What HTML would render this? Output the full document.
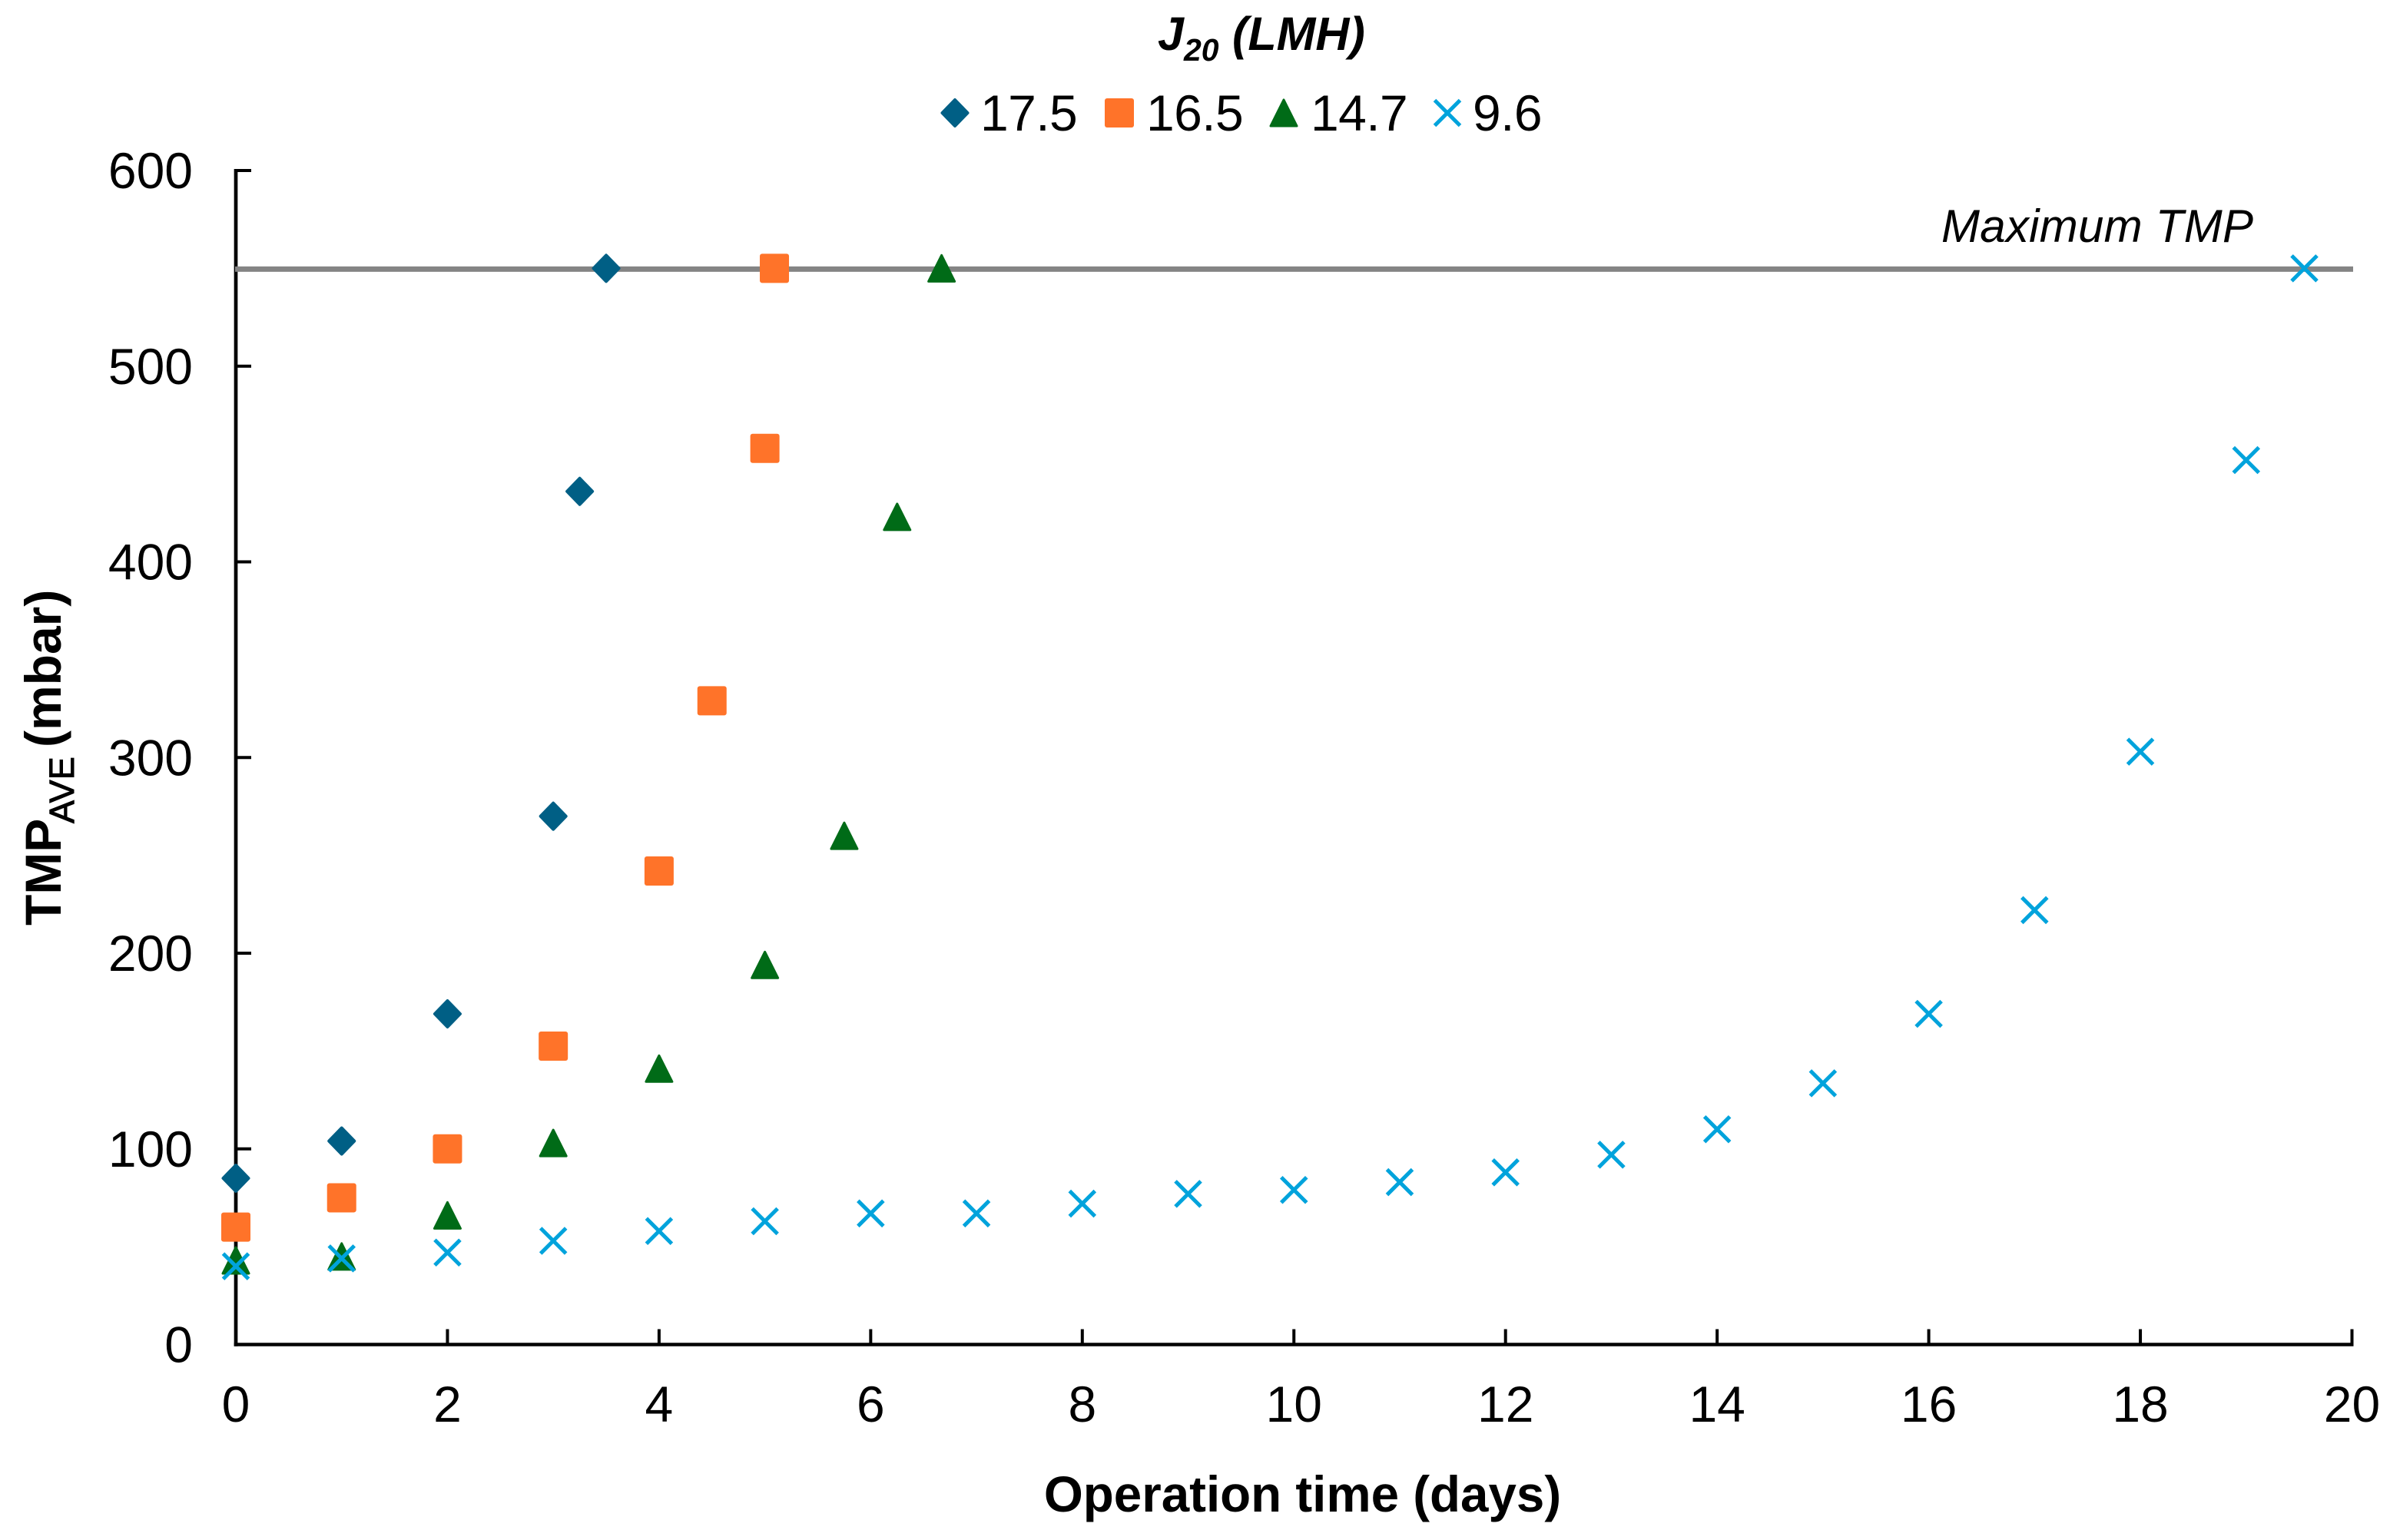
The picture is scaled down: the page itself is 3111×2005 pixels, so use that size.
<!DOCTYPE html>
<html lang="en">
<head>
<meta charset="utf-8">
<title>TMP vs operation time</title>
<style>
html,body{margin:0;padding:0;background:#fff;}
svg{display:block;}
text{font-family:"Liberation Sans",Arial,sans-serif;fill:#000;}
</style>
</head>
<body>
<svg id="chart" xmlns="http://www.w3.org/2000/svg" width="3111" height="2005" viewBox="0 0 3111 2005">
  <rect x="0" y="0" width="3111" height="2005" fill="#ffffff"/>
  <g id="axes"></g>
  <g id="series"></g>
  <text x="2527" y="315" font-size="60" font-style="italic" textLength="406" lengthAdjust="spacing">Maximum TMP</text>
  <text x="1695.5" y="1968" font-size="65.5" font-weight="bold" text-anchor="middle">Operation time (days)</text>
  <text transform="translate(79,1205) rotate(-90)" font-size="66" font-weight="bold">TMP<tspan x="133" dy="17" font-size="45" font-weight="normal" stroke="#000" stroke-width="1">AVE</tspan><tspan x="232" dy="-17">(mbar)</tspan></text>
  <text x="1507" y="65" font-size="61" font-weight="bold" font-style="italic">J<tspan x="1541" dy="14" font-size="41">20</tspan><tspan x="1604" dy="-14">(LMH)</tspan></text>
  <g id="legend"></g>
</svg>
<script>
// ---- chart data ----
const xTickLabels = [0, 2, 4, 6, 8, 10, 12, 14, 16, 18, 20];
const yTickLabels = [0, 100, 200, 300, 400, 500, 600];
const seriesNames = ["17.5", "16.5", "14.7", "9.6"];
const maxTmp = 550;
const days175 = [0, 1, 2, 3, 3.25, 3.5];
const tmp175  = [85, 104, 169, 270, 436, 550];
const days165 = [0, 1, 2, 3, 4, 4.5, 5, 5.09];
const tmp165  = [60, 75, 100, 152.5, 242, 329, 458, 550];
const days147 = [0, 1, 2, 3, 4, 5, 5.75, 6.25, 6.67];
const tmp147  = [43, 45, 66, 103, 141, 194, 260, 423, 550];
const days96  = [0, 1, 2, 3, 4, 5, 6, 7, 8, 9, 10, 11, 12, 13, 14, 15, 16, 17, 18, 19, 19.55];
const tmp96   = [40, 44, 47, 53, 58, 63, 67, 67, 72, 77, 79, 83, 88, 97, 110, 133.5, 169, 222, 303, 452, 550];

// ---- scales ----
const X0 = 307, X1 = 3061.5, Y0 = 1750.5, Y1 = 222;
const xMax = 20, yMax = 600;
function xScale(v){ return X0 + (X1 - X0) * v / xMax; }
function yScale(v){ return Y0 - (Y0 - Y1) * v / yMax; }

const NS = "http://www.w3.org/2000/svg";
function make(tag, parent, attrs){
  const el = document.createElementNS(NS, tag);
  for (const k in attrs) el.setAttribute(k, attrs[k]);
  parent.appendChild(el);
  return el;
}

// ---- axes ----
const axes = document.getElementById("axes");
xTickLabels.forEach(function(v){
  const tick = make("line", axes, {x1:xScale(v), x2:xScale(v), y1:Y0, y2:Y0-20, stroke:"#000", "stroke-width":4});
  
  
  const label = make("text", axes, {x:xScale(v), y:1851, "font-size":66, "text-anchor":"middle"});
  
  
  label.textContent = v;
});
yTickLabels.forEach(function(v){
  const tick = make("line", axes, {x1:X0, x2:X0+20, y1:yScale(v), y2:yScale(v), stroke:"#000", "stroke-width":4});
  
  
  const label = make("text", axes, {x:251, y:yScale(v)+23, "font-size":66, "text-anchor":"end"});
  
  
  label.textContent = v;
});
const yAxisLine = make("line", axes, {x1:X0, x2:X0, y1:Y1-2, y2:Y0+2.3, stroke:"#000", "stroke-width":4.7});


const xAxisLine = make("line", axes, {x1:X0-2.3, x2:X1+2, y1:Y0, y2:Y0, stroke:"#000", "stroke-width":4.5});


const maxLine = make("line", axes, {x1:X0-1, x2:X1+1.5, y1:yScale(maxTmp)+1, y2:yScale(maxTmp)+1, stroke:"#848484", "stroke-width":7});



// ---- marker shapes ----
function drawDiamond(parent, cx, cy){
  return make("polygon", parent, {
    points: [[cx,cy-17],[cx+16.5,cy],[cx,cy+17],[cx-16.5,cy]].join(" "),
    fill:"#005F85", stroke:"#005F85", "stroke-width":4, "stroke-linejoin":"round"
  });
}
function drawSquare(parent, cx, cy){
  return make("rect", parent, {x:cx-19, y:cy-19, width:38, height:38, rx:3, ry:3, fill:"#FF7329"});
}
function drawTriangle(parent, cx, cy){
  return make("polygon", parent, {
    points: [[cx,cy-17],[cx+17,cy+17],[cx-17,cy+17]].join(" "),
    fill:"#006B17", stroke:"#006B17", "stroke-width":3, "stroke-linejoin":"round"
  });
}
function drawCross(parent, cx, cy){
  const p = "M"+(cx-16.5)+" "+(cy-16.5)+"L"+(cx+16.5)+" "+(cy+16.5)+"M"+(cx+16.5)+" "+(cy-16.5)+"L"+(cx-16.5)+" "+(cy+16.5);
  return make("path", parent, {d:p, fill:"none", stroke:"#00A3DC", "stroke-width":5});
}

// ---- series ----
const seriesRoot = document.getElementById("series");
function plot(xs, ys, draw, name){
  const g = make("g", seriesRoot, {});
  
  
  xs.forEach(function(x, i){
    const m = draw(g, xScale(x), yScale(ys[i]));
    
    
  });
}
plot(days175, tmp175, drawDiamond, "17-5");
plot(days165, tmp165, drawSquare, "16-5");
plot(days147, tmp147, drawTriangle, "14-7");
plot(days96, tmp96, drawCross, "9-6");

// ---- legend ----
const legend = document.getElementById("legend");
const legendDraw = [drawDiamond, drawSquare, drawTriangle, drawCross];
const legendMarkerX = [1243, 1457, 1671, 1884];
const legendTextX = [1276, 1492, 1706, 1917];
seriesNames.forEach(function(name, i){
  const entry = make("g", legend, {});
  
  
  const marker = legendDraw[i](entry, legendMarkerX[i], 147);
  
  
  const t = make("text", entry, {x:legendTextX[i], y:170, "font-size":66, "letter-spacing":"-0.6"});
  
  
  t.textContent = name;
});
</script>
</body>
</html>
